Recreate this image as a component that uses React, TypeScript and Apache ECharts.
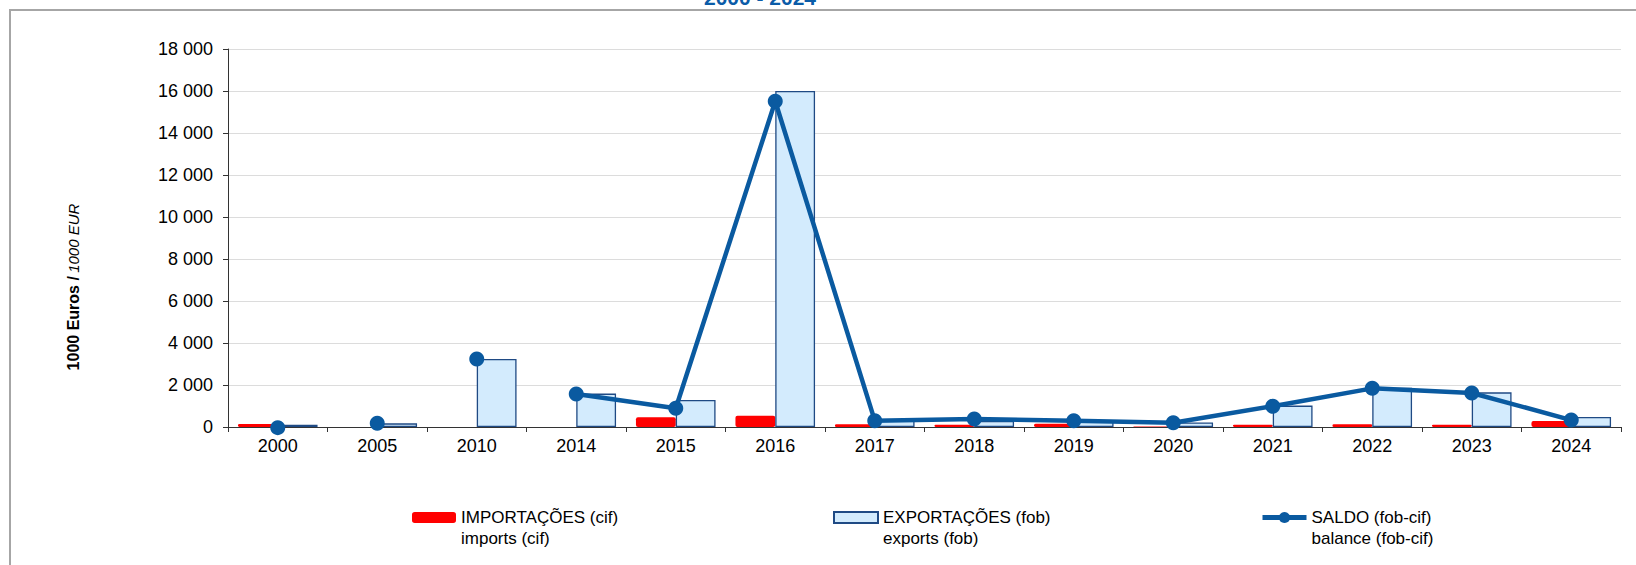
import React, { useEffect, useRef } from "react";
import * as echarts from "echarts";

const years = ["2000", "2005", "2010", "2014", "2015", "2016", "2017", "2018", "2019", "2020", "2021", "2022", "2023", "2024"];
const imports = [140, 0, 0, 0, 460, 540, 130, 110, 160, 20, 110, 130, 110, 290];
const exportsFob = [110, 175, 3240, 1590, 1285, 16000, 300, 290, 280, 220, 1020, 1870, 1650, 480];
const saldo = [-30, 175, 3240, 1570, 890, 15510, 300, 380, 300, 200, 990, 1840, 1620, 330];
// years whose balance point is not joined to its neighbours by the line
const saldoIsolatedYears = ["2000", "2005", "2010"];

const NAME_IMP = "IMPORTAÇÕES (cif)\nimports (cif)";
const NAME_EXP = "EXPORTAÇÕES (fob)\nexports (fob)";
const NAME_SAL = "SALDO (fob-cif)\nbalance (fob-cif)";
const TITLE = "2000 - 2024";

const FONT = "'Liberation Sans', Arial, sans-serif";
const LINE_COLOR = "#0A5AA0";

const fmt = (v: number) => String(v).replace(/\B(?=(\d{3})+(?!\d))/g, " ");

export default function App() {
  const ref = useRef<HTMLDivElement>(null);
  useEffect(() => {
    if (!ref.current) return;
    const chart = echarts.init(ref.current, undefined, { renderer: "svg" });
    const saldoLine = saldo.map((v, i) => (saldoIsolatedYears.includes(years[i]) ? null : v));
    const saldoPoints = saldo.map((v, i) => (saldoIsolatedYears.includes(years[i]) ? v : null));
    const legendBase = {
      top: 486,
      padding: 0,
      itemWidth: 44,
      itemHeight: 11,
      itemGap: 0,
      formatter: (name: string) => "\n" + name,
      textStyle: {
        fontFamily: FONT,
        fontSize: 17,
        color: "#000",
        lineHeight: 21,
      },
    };
    chart.setOption({
      animation: false,
      textStyle: { fontFamily: FONT },
      grid: { left: 228, right: 15, top: 49, bottom: 138, containLabel: false },
      graphic: [
        {
          type: "rect",
          shape: { x: 10, y: 10, width: 1700, height: 700 },
          style: { fill: "none", stroke: "#A6A6A6", lineWidth: 2 },
          silent: true,
        },
        {
          type: "text",
          x: 760,
          y: 8,
          style: {
            text: TITLE,
            fill: "#0B5CA8",
            font: `bold 21px ${FONT}`,
            align: "center",
            verticalAlign: "bottom",
          },
        },
        {
          type: "text",
          x: 73,
          y: 287,
          rotation: Math.PI / 2,
          style: {
            text: "{b|1000 Euros /} {i|1000 EUR}",
            fill: "#000",
            align: "center",
            verticalAlign: "middle",
            rich: {
              b: { fontWeight: "bold", fontSize: 16, fontFamily: FONT, fill: "#000" },
              i: { fontStyle: "italic", fontSize: 15, fontFamily: FONT, fill: "#000" },
            },
          },
        },
      ],
      legend: [
        { ...legendBase, left: 412, data: [{ name: NAME_IMP, icon: "roundRect" }] },
        { ...legendBase, left: 833, data: [{ name: NAME_EXP, icon: "rect" }] },
        {
          ...legendBase,
          left: 1260,
          itemHeight: 14,
          lineStyle: { width: 5 },
          data: [{ name: NAME_SAL }],
        },
      ],
      xAxis: {
        type: "category",
        data: years,
        boundaryGap: true,
        axisLine: { lineStyle: { color: "#333", width: 1 } },
        axisTick: { show: true, length: 5, lineStyle: { color: "#333" } },
        axisLabel: { color: "#000", fontSize: 18, fontFamily: FONT, margin: 10 },
      },
      yAxis: {
        type: "value",
        min: 0,
        max: 18000,
        interval: 2000,
        axisLine: { show: true, lineStyle: { color: "#333", width: 1 } },
        axisTick: { show: true, length: 5, lineStyle: { color: "#333" } },
        axisLabel: { color: "#000", fontSize: 18, fontFamily: FONT, margin: 15, formatter: fmt },
        splitLine: { show: true, lineStyle: { color: "#DCDCDC", width: 1 } },
      },
      series: [
        {
          name: NAME_IMP,
          type: "bar",
          data: imports,
          barGap: "0%",
          barCategoryGap: "20%",
          itemStyle: { color: "#FF0000", borderRadius: 2 },
        },
        {
          name: NAME_EXP,
          type: "bar",
          data: exportsFob,
          barGap: "0%",
          barCategoryGap: "20%",
          itemStyle: { color: "#D3EBFD", borderColor: "#1F4A84", borderWidth: 1.3 },
        },
        {
          name: NAME_SAL,
          type: "line",
          data: saldoLine,
          connectNulls: false,
          clip: false,
          symbol: "circle",
          symbolSize: 15,
          lineStyle: { color: LINE_COLOR, width: 4.5 },
          itemStyle: { color: LINE_COLOR },
          z: 5,
        },
        {
          name: NAME_SAL,
          type: "scatter",
          data: saldoPoints,
          clip: false,
          symbol: "circle",
          symbolSize: 15,
          itemStyle: { color: LINE_COLOR, opacity: 1 },
          z: 5,
        },
      ],
    });
    return () => chart.dispose();
  }, []);
  return (
    <div
      ref={ref}
      style={{ position: "absolute", left: 0, top: 0, width: 1636, height: 565, background: "#fff" }}
    />
  );
}
